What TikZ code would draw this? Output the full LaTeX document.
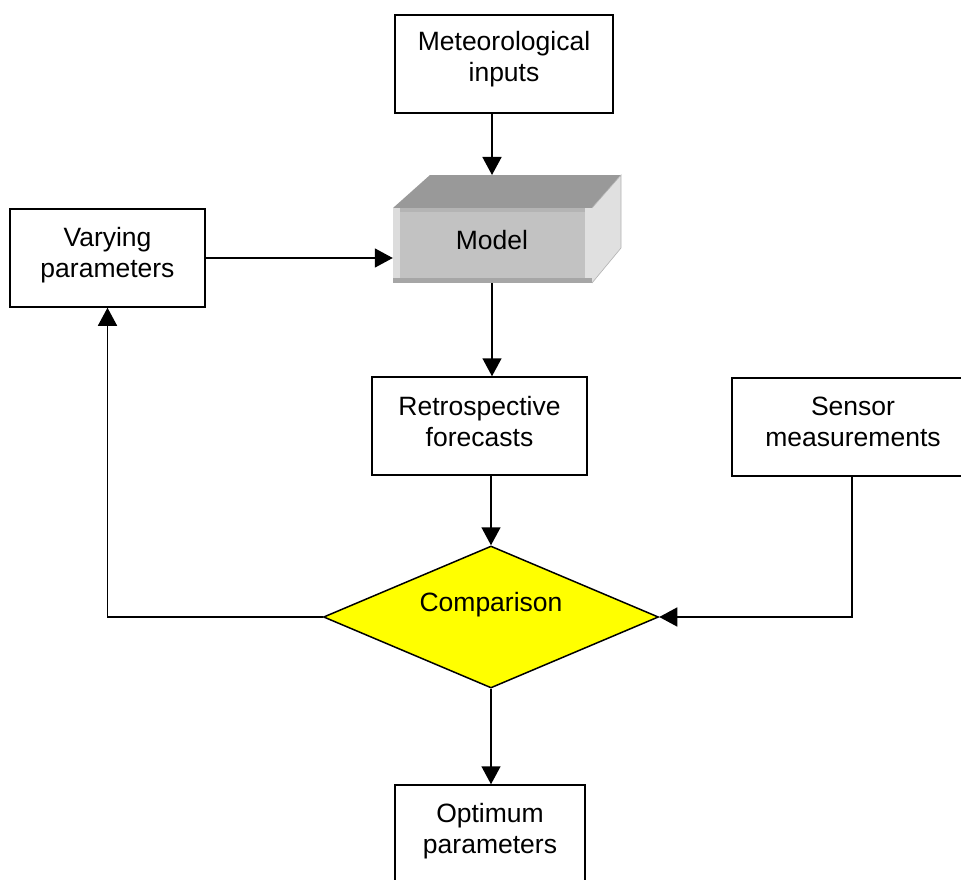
\documentclass[tikz,border=0pt]{standalone}
\usepackage{fontspec}
\setmainfont{Liberation Sans}
\usetikzlibrary{shapes.geometric,arrows.meta}
\definecolor{topface}{HTML}{999999}
\definecolor{frontface}{HTML}{C2C2C2}
\definecolor{sideface}{HTML}{E0E0E0}
\definecolor{stripL}{HTML}{DCDCDC}
\definecolor{stripB}{HTML}{A6A6A6}
\definecolor{stripT}{HTML}{B4B4B4}
\definecolor{cmpyellow}{HTML}{FFFF00}
\tikzset{
  box/.style={draw=black, line width=1.5pt, fill=white, align=center, inner sep=0pt,
    font=\fontsize{26.5}{31}\selectfont},
  flow/.style={line width=1.5pt, -{Triangle[length=18pt,width=19pt]}},
  txt/.style={align=center, inner sep=0pt, font=\fontsize{26.5}{31}\selectfont},
}
\begin{document}
\begin{tikzpicture}[x=1pt,y=-1pt]
\clip (0,0) rectangle (961,880);
\fill[white] (0,0) rectangle (961,880);

% boxes
\node[box, minimum width=218pt, minimum height=98pt] (met) at (504,64) {};
\node[txt] (mett) at (504,59) {Meteorological\\inputs};
\node[box, minimum width=195pt, minimum height=98pt] (vary) at (107.5,258) {};
\node[txt] (varyt) at (107.5,255) {Varying\\parameters};
\node[box, minimum width=215pt, minimum height=98pt] (retro) at (479.5,426) {};
\node[txt] (retrot) at (479.5,422) {Retrospective\\forecasts};
\node[box, minimum width=242pt, minimum height=98pt] (sensor) at (853,427) {};
\node[txt] (sensort) at (853,422) {Sensor\\measurements};
\node[box, minimum width=190pt, minimum height=150pt] (opt) at (490,860) {};
\node[txt] (optt) at (490,831) {Optimum\\parameters};

% model 3D box
\fill[topface] (393,208) -- (430,175) -- (621,175) -- (592,208) -- cycle;
\fill[sideface] (592,208) -- (621,175) -- (621,248) -- (592,283) -- cycle;
\draw[gray!60, line width=0.6pt] (592,208) -- (621,175) -- (621,248) -- (592,283);
\node[fill=frontface, minimum width=199pt, minimum height=75pt, inner sep=0pt] (model) at (492.5,245.5) {};
\fill[stripT] (393,208) rectangle (592,212);
\fill[stripL] (393,208) rectangle (400,283);
\fill[sideface] (585,208) rectangle (592,283);
\fill[stripB] (393,278) rectangle (592,283);
\node[txt] (modelt) at (492,240) {Model};
\coordinate (mtop) at (492,175);

% diamond
\node[draw=black, line width=1.5pt, fill=cmpyellow, diamond, inner sep=0pt, aspect=2.36,
  minimum width=335pt, minimum height=142pt] (cmp) at (491,617) {};
\node[txt] (cmpt) at (491,605) {Comparison};

% connectors
\draw[flow] (met.south -| mtop) -- (mtop);
\draw[flow] (vary.east) -- (vary.east -| model.west);
\draw[flow] (model.south -| mtop) -- (mtop |- retro.north);
\draw[flow] (retro.south -| cmp.north) -- (cmp.north);
\draw[flow] (cmp.south) -- (cmp.south |- opt.north);
\coordinate (sx) at (852,476);
\draw[flow] (sx) -- (sx |- cmp.east) -- (cmp.east);
\draw[flow] (cmp.west) -- (cmp.west -| vary.south) -- (vary.south);
\end{tikzpicture}
\end{document}
